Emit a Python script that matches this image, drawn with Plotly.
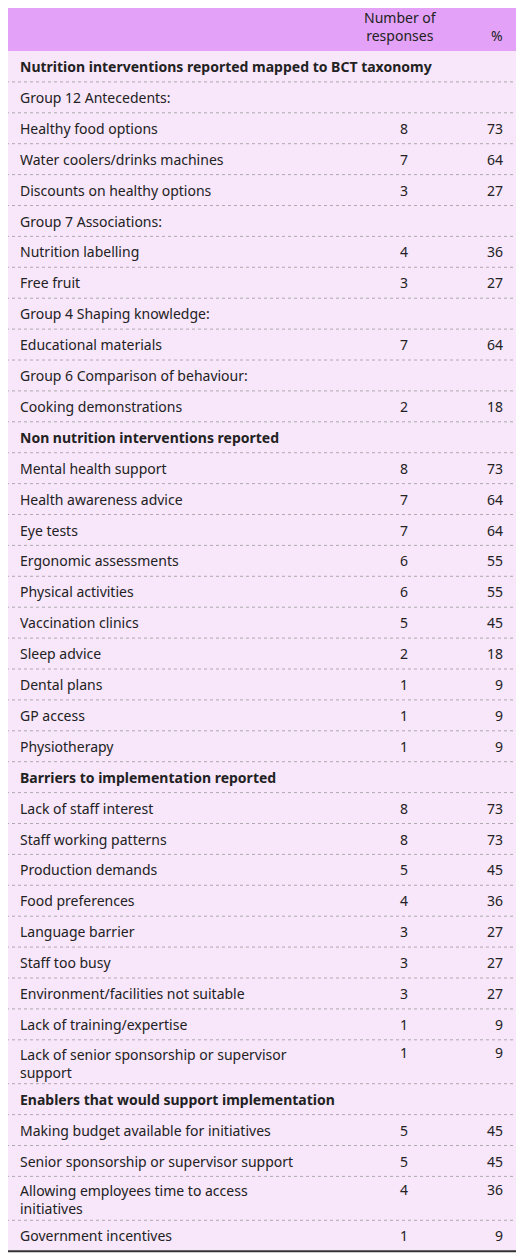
import plotly.graph_objects as go

# Table content
labels = [
    "Nutrition interventions reported mapped to BCT taxonomy",
    "Group 12 Antecedents:", "Healthy food options", "Water coolers/drinks machines",
    "Discounts on healthy options", "Group 7 Associations:", "Nutrition labelling",
    "Free fruit", "Group 4 Shaping knowledge:", "Educational materials",
    "Group 6 Comparison of behaviour:", "Cooking demonstrations",
    "Non nutrition interventions reported",
    "Mental health support", "Health awareness advice", "Eye tests",
    "Ergonomic assessments", "Physical activities", "Vaccination clinics",
    "Sleep advice", "Dental plans", "GP access", "Physiotherapy",
    "Barriers to implementation reported",
    "Lack of staff interest", "Staff working patterns", "Production demands",
    "Food preferences", "Language barrier", "Staff too busy",
    "Environment/facilities not suitable", "Lack of training/expertise",
    "Lack of senior sponsorship or supervisor<br>support",
    "Enablers that would support implementation",
    "Making budget available for initiatives",
    "Senior sponsorship or supervisor support",
    "Allowing employees time to access<br>initiatives",
    "Government incentives",
]
counts = ["", "", 8, 7, 3, "", 4, 3, "", 7, "", 2, "",
          8, 7, 7, 6, 6, 5, 2, 1, 1, 1, "",
          8, 8, 5, 4, 3, 3, 3, 1, 1, "",
          5, 5, 4, 1]
percents = ["", "", 73, 64, 27, "", 36, 27, "", 64, "", 18, "",
            73, 64, 64, 55, 55, 45, 18, 9, 9, 9, "",
            73, 73, 45, 36, 27, 27, 27, 9, 9, "",
            45, 45, 36, 9]
headings = {0, 12, 23, 33}

W, H = 524, 1257
off = 8  # page body margin
top, header_h, row_h, extra = 2, 49, 30.9, 13
font = "Noto Sans"
fs = 14

fig = go.Figure()
shapes, ann = [], []

# header
shapes.append(dict(type="rect", x0=0, x1=W, y0=top, y1=top + header_h,
                   fillcolor="#E3A2F8", line_width=0, layer="below"))
ann.append(dict(x=400, y=top + header_h - 4, text="Number of<br>responses",
                xanchor="center", yanchor="bottom", showarrow=False,
                align="center", font=dict(family=font, size=fs, color="#222")))
ann.append(dict(x=505, y=top + header_h - 4, text="%", xanchor="right",
                yanchor="bottom", showarrow=False,
                font=dict(family=font, size=fs, color="#222")))

y = top + header_h
y_start = y
for i, lab in enumerate(labels):
    two = "<br>" in lab
    h = row_h + (extra if two else 0)
    ty = y + 15.5
    txt = f"<b>{lab}</b>" if i in headings else lab
    ann.append(dict(x=18, y=y + 3 if two else ty, text=txt, xanchor="left",
                    yanchor="top" if two else "middle",
                    showarrow=False, align="left",
                    font=dict(family=font, size=fs, color="#222")))
    if counts[i] != "":
        ny = y + 13 if two else ty
        ann.append(dict(x=404, y=ny, text=str(counts[i]), xanchor="center",
                        yanchor="middle", showarrow=False,
                        font=dict(family=font, size=fs, color="#222")))
        ann.append(dict(x=505, y=ny, text=str(percents[i]), xanchor="right",
                        yanchor="middle", showarrow=False,
                        font=dict(family=font, size=fs, color="#222")))
    y += h
    if i < len(labels) - 1:
        shapes.append(dict(type="line", x0=0, x1=W, y0=y, y1=y,
                           line=dict(color="#9a9a9a", width=0.8, dash="dot")))

shapes.insert(1, dict(type="rect", x0=0, x1=W, y0=y_start, y1=y,
                      fillcolor="#F8E6FA", line_width=0, layer="below"))
shapes.append(dict(type="line", x0=0, x1=W, y0=top, y1=top,
                   line=dict(color="#333", width=1.5)))
shapes.append(dict(type="line", x0=0, x1=W, y0=y, y1=y,
                   line=dict(color="#333", width=2)))

fig.update_layout(
    width=W, height=H, margin=dict(l=0, r=0, t=0, b=0),
    paper_bgcolor="white", plot_bgcolor="white",
    xaxis=dict(range=[off, W + off], visible=False, fixedrange=True),
    yaxis=dict(range=[H + off, off], visible=False, fixedrange=True),
    shapes=shapes, annotations=ann, showlegend=False,
)

fig.write_html("out.html")
